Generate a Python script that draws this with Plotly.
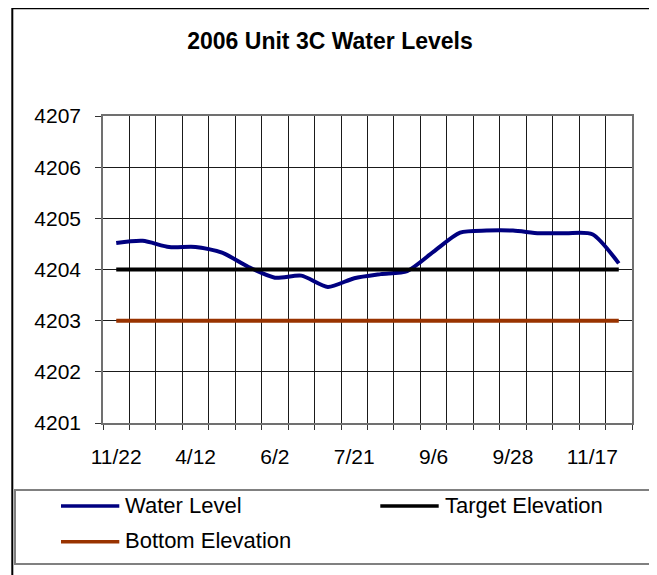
import plotly.graph_objects as go

# ---- data ----
categories = list(range(20))
tick_positions = [0, 3, 6, 9, 12, 15, 18]
tick_labels = ["11/22", "4/12", "6/2", "7/21", "9/6", "9/28", "11/17"]
water_level = [4204.52, 4204.56, 4204.44, 4204.44, 4204.33, 4204.05, 4203.84,
               4203.88, 4203.66, 4203.83, 4203.91, 4203.97, 4204.35, 4204.72,
               4204.76, 4204.76, 4204.71, 4204.71, 4204.69, 4204.12]
target_elevation = [4204] * 20
bottom_elevation = [4203] * 20
series_names = ["Water Level", "Target Elevation", "Bottom Elevation"]
series_colors = ["#000080", "#000000", "#993300"]

FONT = "Liberation Sans, Arial, sans-serif"
OFF = 8  # page body margin
L, R, T, B = 103 - OFF, 632 - OFF, 116 - OFF, 423 - OFF
FW, FH = 649, 567
W, H = R - L, B - T


def px(x):
    return (x - OFF - L) / W


def py(y):
    return (B - (y - OFF)) / H


fig = go.Figure()
for name, vals, col, wd in [
    (series_names[0], water_level, series_colors[0], 4),
    (series_names[1], target_elevation, series_colors[1], 4),
    (series_names[2], bottom_elevation, series_colors[2], 4),
]:
    if name == "Water Level":
        ln = dict(color=col, width=wd, shape="spline", smoothing=0.7)
    else:
        ln = dict(color=col, width=wd)
    fig.add_trace(go.Scatter(x=categories, y=vals, mode="lines", name=name,
                             line=ln, showlegend=False))

shapes = []
# outer chart frame
shapes.append(dict(type="rect", xref="paper", yref="paper",
                   x0=px(12.3), x1=px(650.3), y0=py(590), y1=py(8.3),
                   line=dict(color="black", width=2), layer="below"))
# legend box
shapes.append(dict(type="rect", xref="paper", yref="paper",
                   x0=px(15), x1=px(650.3), y0=py(564), y1=py(490),
                   line=dict(color="#808080", width=2), fillcolor="white", layer="below"))

annotations = []
legend_pos = [(61, 119.3, 506), (380.3, 438.7, 506), (61, 119.3, 541.7)]
for (x0, x1, yy), name, col in zip(legend_pos, series_names, series_colors):
    shapes.append(dict(type="line", xref="paper", yref="paper",
                       x0=px(x0), x1=px(x1), y0=py(yy), y1=py(yy),
                       line=dict(color=col, width=3.5)))
    annotations.append(dict(xref="paper", yref="paper", x=px(x1 + 4), y=py(yy - 1),
                            xanchor="left", yanchor="middle", showarrow=False,
                            text=name, font=dict(family=FONT, size=22, color="black")))

fig.update_layout(
    width=FW, height=FH,
    margin=dict(l=L, r=FW - R, t=T, b=FH - B, autoexpand=False),
    paper_bgcolor="white", plot_bgcolor="white",
    title=dict(text="<b>2006 Unit 3C Water Levels</b>", x=(330 - OFF) / FW, xref="container",
               xanchor="center", y=1 - (41 - OFF) / FH, yref="container", yanchor="middle",
               font=dict(family=FONT, size=23, color="black")),
    shapes=shapes, annotations=annotations,
    showlegend=False,
)

fig.update_xaxes(
    range=[-0.5, 19.5], tickmode="array", tickvals=tick_positions, ticktext=tick_labels,
    ticks="", showgrid=False, zeroline=False,
    showline=True, linecolor="#707070", linewidth=1.5, mirror=True,
    tickfont=dict(family=FONT, size=21, color="black"),
    ticklabelstandoff=14,
    minor=dict(tickmode="linear", tick0=0.5, dtick=1, showgrid=True,
               gridcolor="#1a1a1a", gridwidth=1, ticks="outside", ticklen=5,
               tickcolor="#333333", tickwidth=1),
)
fig.update_yaxes(
    range=[4201, 4207], tickmode="linear", tick0=4201, dtick=1,
    showgrid=True, gridcolor="#1a1a1a", gridwidth=1, zeroline=False,
    showline=True, linecolor="#707070", linewidth=1.5, mirror=True,
    ticks="outside", ticklen=6, tickcolor="#333333",
    tickfont=dict(family=FONT, size=21, color="black"),
    ticklabelstandoff=10,
)

fig.write_html("out.html")
